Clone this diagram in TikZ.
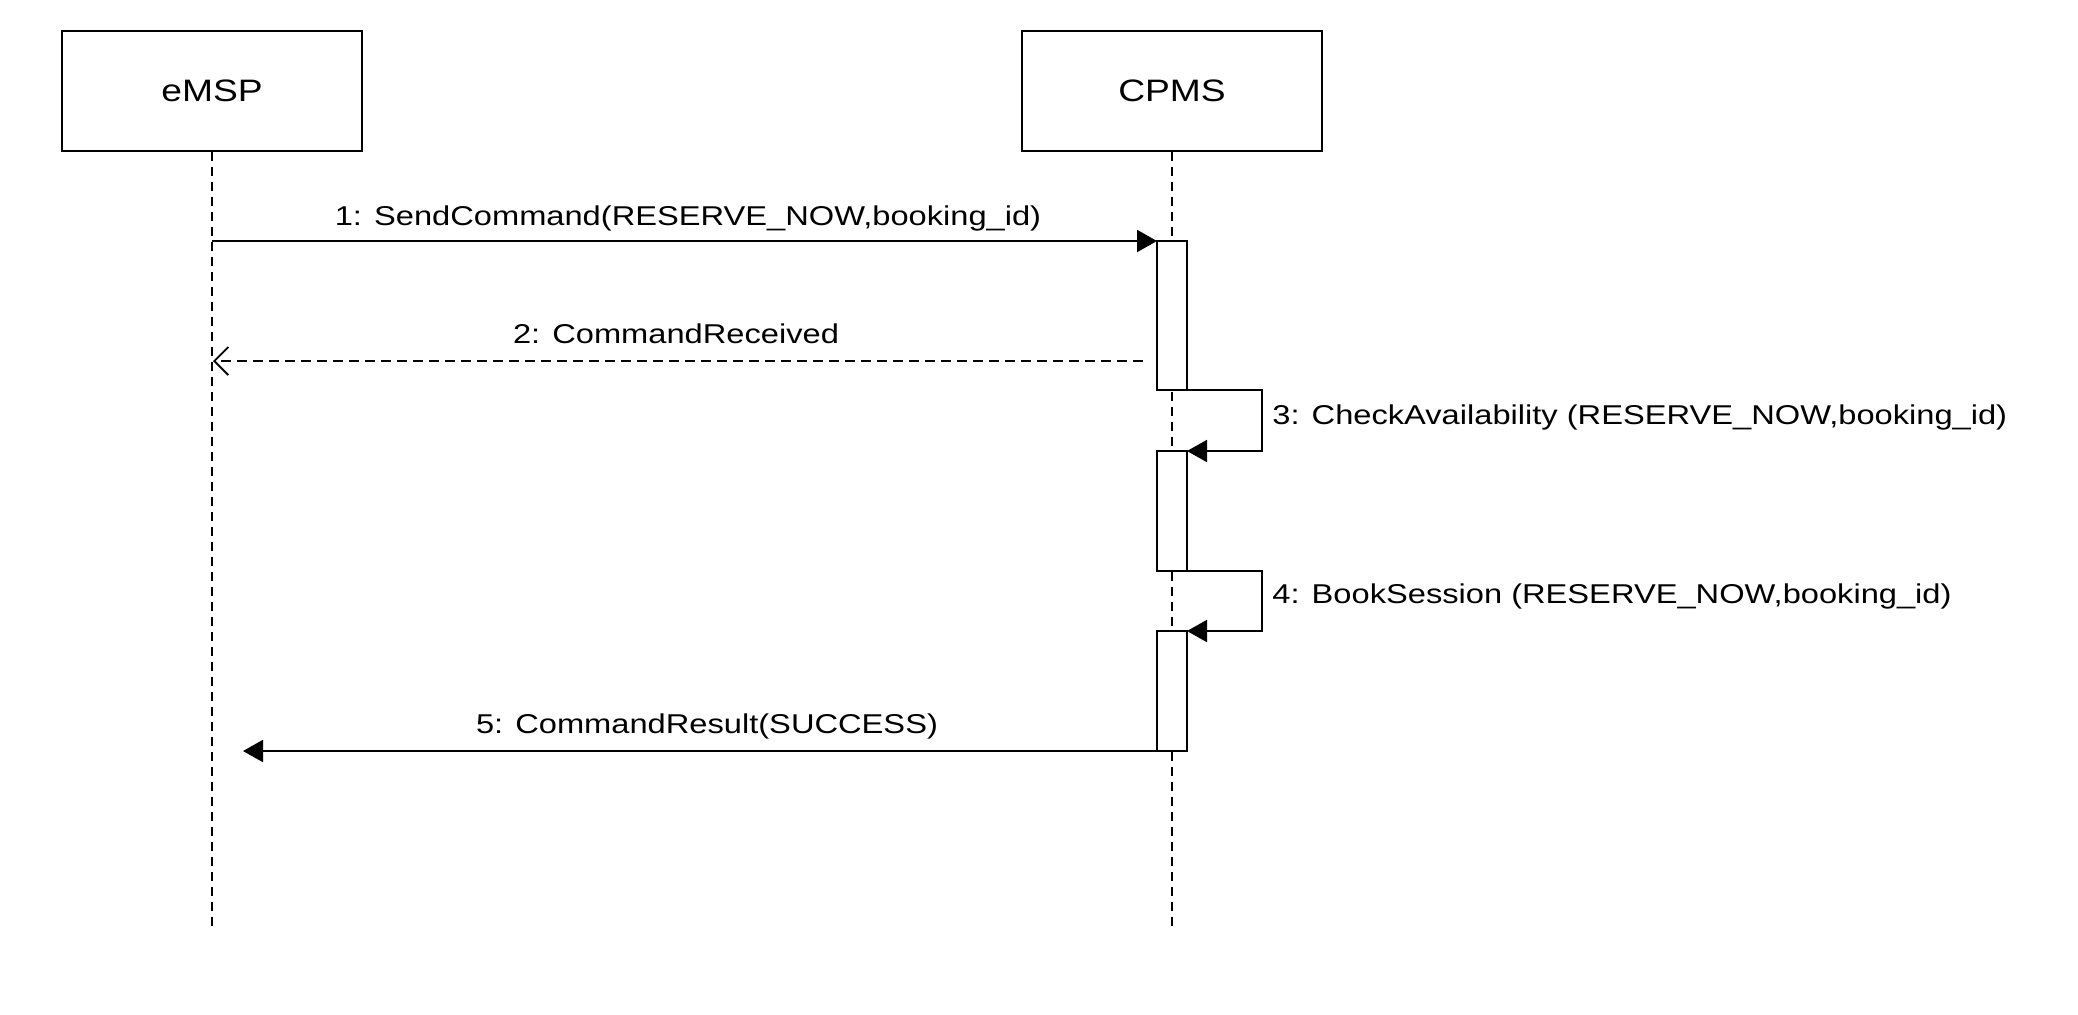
\documentclass[tikz,border=0pt]{standalone}
\usepackage{fontspec}
\setmainfont[FakeStretch=1.2]{Liberation Sans}
\usetikzlibrary{arrows.meta}
\begin{document}
\begin{tikzpicture}[x=0.5pt,y=-0.5pt,
  actor/.style={draw,line width=1pt,minimum width=150pt,minimum height=60pt,inner sep=0pt,font=\fontsize{15.5}{17}\selectfont},
  lifeline/.style={line width=0.75pt,dash pattern=on 4.5pt off 3pt},
  actbox/.style={draw,fill=white,line width=1pt,minimum width=15pt,inner sep=0pt,outer sep=0pt},
  syncmsg/.style={line width=1pt,-{Triangle[length=10pt,width=11pt]}},
  retmsg/.style={line width=0.75pt,dash pattern=on 5pt off 3pt,-{Straight Barb[length=7pt,width=14pt,line width=0.9pt]}},
  lbl/.style={font=\fontsize{13.6}{15}\selectfont,inner sep=0pt}]
\useasboundingbox[fill=white] (0,0) rectangle (2078,1014);
% actors
\node[actor] (emsp) at (212,91) {eMSP};
\node[actor] (cpms) at (1172,91) {CPMS};
% lifeline ends
\coordinate (emspend) at (212,932);
\coordinate (cpmsend) at (1172,932);
\draw[lifeline] (emsp.south) -- (emspend);
\draw[lifeline] (cpms.south) -- (cpmsend);
% activation boxes
\node[actbox,minimum height=74.5pt] (a1) at (1172,315.5) {};
\node[actbox,minimum height=60pt] (a2) at (1172,511) {};
\node[actbox,minimum height=60pt] (a3) at (1172,691) {};
% messages
\draw[syncmsg] (emsp.south |- a1.north) -- (a1.north west);
\node[lbl,anchor=base] (l1) at (688,225) {1: SendCommand(RESERVE\_NOW,booking\_id)};
\coordinate (r2s) at (1143,361);
\coordinate (r2e) at (213,361);
\draw[retmsg] (r2s) -- (r2e);
\node[lbl,anchor=base] (l2) at (676,343) {2: CommandReceived};
\draw[syncmsg] (a1.south east) -- ++(75,0) |- (a2.north east);
\node[lbl,anchor=base west] (l3) at (1272,424) {3: CheckAvailability (RESERVE\_NOW,booking\_id)};
\draw[syncmsg] (a2.south east) -- ++(75,0) |- (a3.north east);
\node[lbl,anchor=base west] (l4) at (1272,603) {4: BookSession (RESERVE\_NOW,booking\_id)};
\coordinate (r5e) at (243,751);
\draw[syncmsg] (a3.south west) -- (r5e);
\node[lbl,anchor=base] (l5) at (707,733) {5: CommandResult(SUCCESS)};
\end{tikzpicture}
\end{document}
